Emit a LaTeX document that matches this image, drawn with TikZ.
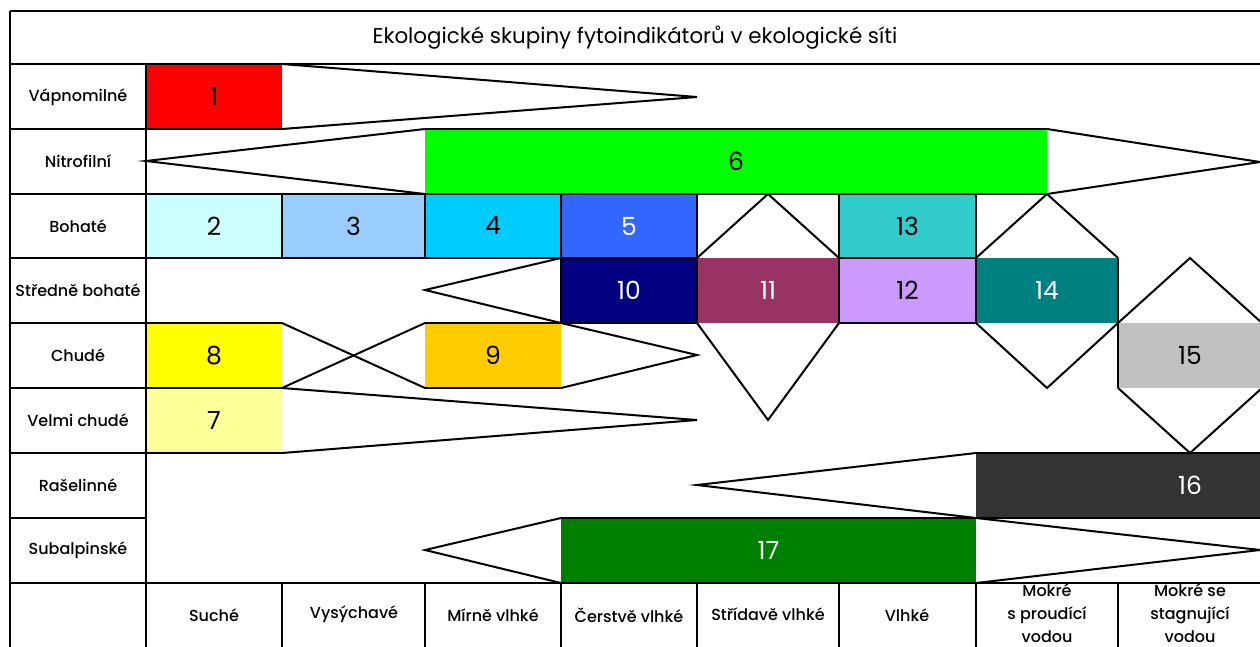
\documentclass[tikz,border=0pt]{standalone}
\usepackage{fontspec}
\setmainfont{Poppins}
\newfontfamily\labelfont{Poppins Medium}
\definecolor{c1}{HTML}{FF0000}
\definecolor{c2}{HTML}{CCFFFF}
\definecolor{c3}{HTML}{99CCFF}
\definecolor{c4}{HTML}{00CCFF}
\definecolor{c5}{HTML}{3366FF}
\definecolor{c6}{HTML}{00FF00}
\definecolor{c7}{HTML}{FFFF99}
\definecolor{c8}{HTML}{FFFF00}
\definecolor{c9}{HTML}{FFCC00}
\definecolor{c10}{HTML}{000080}
\definecolor{c11}{HTML}{993366}
\definecolor{c12}{HTML}{CC99FF}
\definecolor{c13}{HTML}{33CCCC}
\definecolor{c14}{HTML}{008080}
\definecolor{c15}{HTML}{C0C0C0}
\definecolor{c16}{HTML}{333333}
\definecolor{c17}{HTML}{008000}
\newcommand\cellbox[7]{%
  \node[cellb,#6,minimum width={#4-#2},minimum height={#5-#3}] (#1) at ({(#2+#4)/2},{(#3+#5)/2}) {#7};}
\begin{document}
\begin{tikzpicture}[x=1pt,y=-1pt,line width=2pt,line join=miter,
  cellb/.style={rectangle,inner sep=0pt,outer sep=0pt,font=\fontsize{25}{28}\selectfont},
  framed/.style={draw=black},
  wtext/.style={text=white},
  rowlabel/.style={font=\labelfont\fontsize{16}{18}\selectfont},
  collabel/.style={font=\labelfont\fontsize{16}{23}\selectfont,align=center},
  titlestyle/.style={font=\fontsize{21.4}{24}\selectfont}]
\useasboundingbox (0,0) rectangle (1260,646);
\fill[white] (0,0) rectangle (1260,646);
\begin{scope}
\clip (0,0) rectangle (1260,646);
% ---------- coloured boxes ----------
\cellbox{b1}{146}{64}{282}{129}{fill=c1}{1}
\cellbox{b6}{425}{129}{1047}{194}{fill=c6}{6}
\cellbox{b2}{146}{194}{282}{258}{fill=c2,framed}{2}
\cellbox{b3}{282}{194}{425}{258}{fill=c3,framed}{3}
\cellbox{b4}{425}{194}{561}{258}{fill=c4,framed}{4}
\cellbox{b5}{561}{194}{697}{258}{fill=c5,framed,wtext}{5}
\cellbox{b13}{839}{194}{976}{258}{fill=c13,framed}{13}
\cellbox{b11}{697}{258}{839}{323}{fill=c11,wtext}{11}
\cellbox{b14}{976}{258}{1118}{323}{fill=c14,wtext}{14}
\cellbox{b10}{561}{258}{697}{323}{fill=c10,framed,wtext}{10}
\cellbox{b12}{839}{258}{976}{323}{fill=c12,framed}{12}
\cellbox{b8}{146}{323}{282}{388}{fill=c8}{8}
\cellbox{b9}{425}{323}{561}{388}{fill=c9}{9}
\cellbox{b15}{1118}{323}{1262}{388}{fill=c15}{15}
\cellbox{b7}{146}{388}{282}{453}{fill=c7}{7}
\cellbox{b16}{976}{453}{1404}{518}{fill=c16,wtext}{16}
\cellbox{b17}{561}{518}{976}{583}{fill=c17,wtext}{17}
% ---------- tips ----------
\coordinate (t1) at (697,97);
\coordinate (t6l) at (146,161);
\coordinate (t6r) at (1260,162);
\coordinate (d11t) at (768,194);
\coordinate (d11b) at (768,420);
\coordinate (d14t) at (1047,194);
\coordinate (d14b) at (1047,388);
\coordinate (d15t) at (1190,258);
\coordinate (d15b) at (1190,453);
\coordinate (t10) at (425,290);
\coordinate (t9) at (697,355);
\coordinate (t7) at (697,420);
\coordinate (t16) at (697,485);
\coordinate (t17l) at (425,550);
\coordinate (t17r) at (1260,550);
% ---------- box edges ----------
\draw (b1.south west) -- (b1.south east);
\draw (b6.north west) -- (b6.north east);
\draw (b6.south west) -- (b6.south east);
\draw (b14.north east) -- (b14.south east);
\draw (b15.north west) -- (b15.south west);
\draw (b8.north west) -- (b8.north east);
\draw (b8.south west) -- (b8.south east);
\draw (b9.north west) -- (b9.north east);
\draw (b9.south west) -- (b9.south east);
\draw (b7.south west) -- (b7.south east);
\draw (b16.north west) -- (b16.north east);
\draw (b16.south west) -- (b16.south east);
\draw (b17.north west) -- (b17.north east);
% ---------- triangles and diamonds ----------
\draw (b1.north east) -- (t1) -- (b1.south east);
\draw (b6.north west) -- (t6l) -- (b6.south west);
\draw (b6.north east) -- (t6r) -- (b6.south east);
\draw (b11.north west) -- (d11t) -- (b11.north east);
\draw (b11.south west) -- (d11b) -- (b11.south east);
\draw (b14.north west) -- (d14t) -- (b14.north east);
\draw (b14.south west) -- (d14b) -- (b14.south east);
\draw (b15.north west) -- (d15t) -- (b15.north east);
\draw (b15.south west) -- (d15b) -- (b15.south east);
\draw (b10.north west) -- (t10) -- (b10.south west);
\draw (b8.north east) -- (b9.south west);
\draw (b8.south east) -- (b9.north west);
\draw (b9.north east) -- (t9) -- (b9.south east);
\draw (b7.north east) -- (t7) -- (b7.south east);
\draw (b16.north west) -- (t16) -- (b16.south west);
\draw (b17.north west) -- (t17l) -- (b17.south west);
\draw (b17.north east) -- (t17r) -- (b17.south east);
% ---------- table frame ----------
\draw (10,11) -- (1262,11);
\draw (10,64) -- (1262,64);
\draw (10,583) -- (1262,583);
\draw (10,11) -- (10,648);
\draw (146,64) -- (146,648);
\foreach \yy in {129,194,258,323,388,453,518} {\draw (10,\yy) -- (146,\yy);}
\foreach \xx in {282,425,561,697,839,976,1118} {\draw (\xx,583) -- (\xx,648);}
% ---------- texts ----------
\node[titlestyle] (title) at (635,38) {Ekologické skupiny fytoindikátorů v ekologické síti};
\node[rowlabel] (L1) at (78,97) {Vápnomilné};
\node[rowlabel] (L2) at (78,161) {Nitrofilní};
\node[rowlabel] (L3) at (78,226) {Bohaté};
\node[rowlabel] (L4) at (78,290) {Středně bohaté};
\node[rowlabel] (L5) at (78,355) {Chudé};
\node[rowlabel] (L6) at (78,420) {Velmi chudé};
\node[rowlabel] (L7) at (78,485) {Rašelinné};
\node[rowlabel] (L8) at (78,550) {Subalpinské};
\node[collabel] (H1) at (214,615) {Suché};
\node[collabel] (H2) at (354,614) {Vysýchavé};
\node[collabel] (H3) at (493,615) {Mírně vlhké};
\node[collabel] (H4) at (629,615) {Čerstvě vlhké};
\node[collabel] (H5) at (768,614) {Střídavě vlhké};
\node[collabel] (H6) at (907,615) {Vlhké};
\node[collabel] (H7) at (1047,613) {Mokré\\s proudící\\vodou};
\node[collabel] (H8) at (1190,613) {Mokré se\\stagnující\\vodou};
\end{scope}
\end{tikzpicture}
\end{document}
